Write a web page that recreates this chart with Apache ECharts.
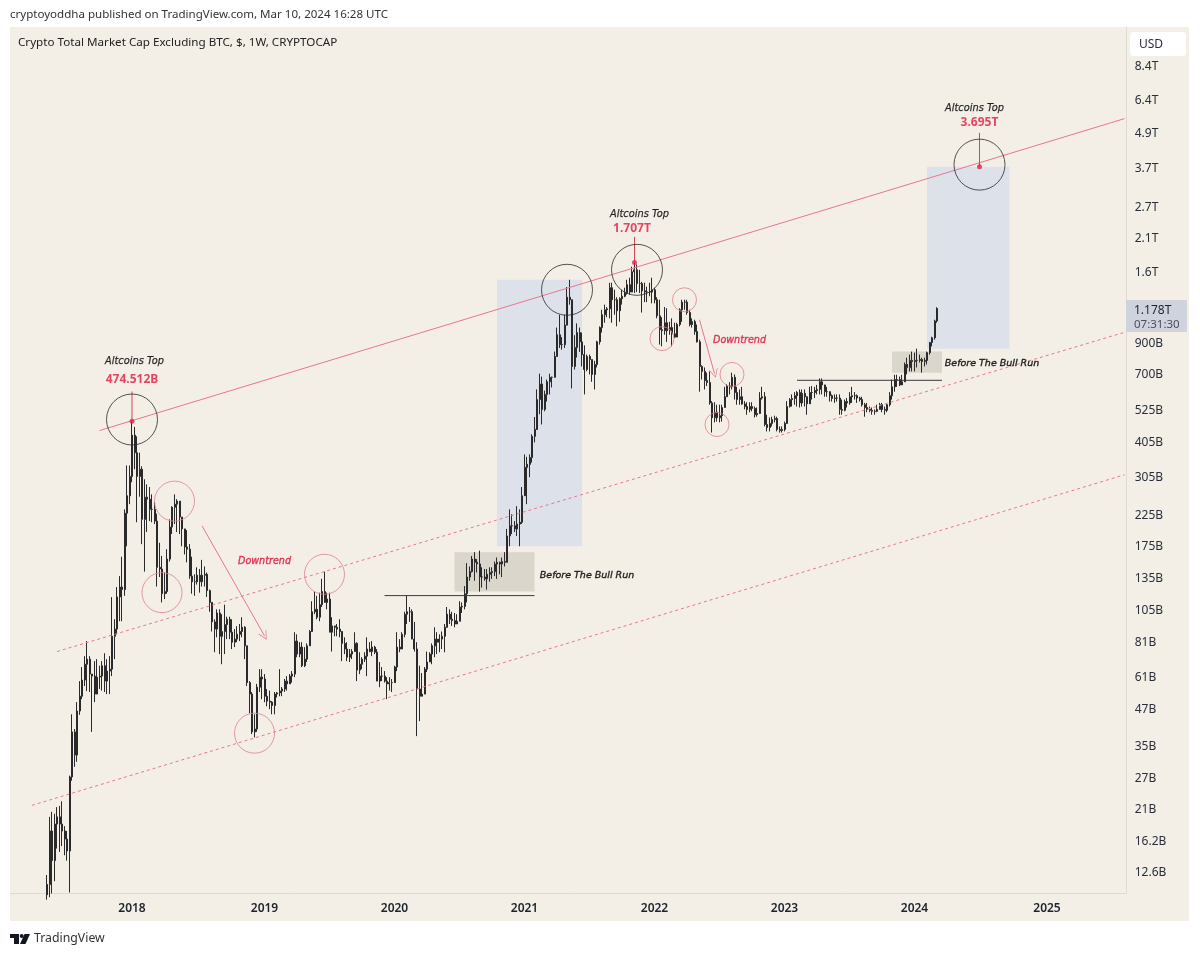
<!DOCTYPE html>
<html>
<head>
<meta charset="utf-8">
<title>Crypto Total Market Cap Excluding BTC</title>
<script src="https://cdn.jsdelivr.net/npm/echarts@6/dist/echarts.min.js"></script>
<style>
html,body{margin:0;padding:0;background:#fff}
#chart{width:1200px;height:957px}
</style>
</head>
<body>
<div id="chart"></div>
<script>
// Weekly candles in billions of USD. Each candle opens at the previous close.
const firstCandleWeek = 14;
const firstOpen = 10.4;
const closes = [
11.3,17.4,13.7,18.4,19.5,18.4,17.4,16.3,14.8,26.9,38.7,32.1,45.8,51.6,58.8,66.8,69.6,61.7,60.7,52.5,60.2,60.7,66,58.3,63.2,64.2,
83.7,88.7,115,124.5,122,226,260,304,424,368,304,322,215,257,253,233,233,212,146,144,118,120,156,202,237,243,249,219,199,172,169,
136,130,130,137,130,137,138,121,110,94,88.7,101,83.7,87,92,96,86.5,79.8,81.8,85,87,90,77.5,57.6,52.5,38.7,39.6,55.5,60.2,59.3,51.6,
49.6,49.2,47.9,52.5,53,53.8,54.7,58.3,57,60.7,61.7,80.5,72.5,76.7,66,69.6,77.5,87,102,104,97.6,108,120,110,113,86.5,91,90,88.7,87,79,
75.5,70.7,72.5,74,79,63.7,66.8,69.6,71.3,75.5,74,76.7,73.6,58.3,60.7,60.7,58.3,57,57.6,57.6,65.3,76.7,75.5,85,100,102,102,81.8,75.5,54.7,
51.6,52.5,64.2,68,72.5,77.5,81.8,79.8,81.8,83.7,90,100,96,95,92.4,94.5,106,106.5,118,135,141,156,152,150,135,135,133,138,140,141,150,
152,150,153,152,188,204,204,199,207,210,260,327,335,354,420,444,565,640,522,589,652,676,676,800,953,880,880,1030,1290,1264,738,860,970,
900,812,720,800,780,692,750,900,1010,1120,1166,1175,1393,1264,1264,1157,1275,1300,1335,1427,1345,1583,1609,1440,1440,1358,1345,1345,
1345,1370,1264,1110,993,985,1050,985,1010,960,935,1035,1166,1240,1240,1140,1035,1060,978,900,738,709,659,648,550,488,510,488,496,530,
578,630,626,676,598,565,578,545,534,522,534,526,500,505,572,578,462,451,466,481,485,444,440,444,466,534,565,570,583,598,550,594,578,546,
598,598,608,613,652,636,602,602,583,570,572,572,522,518,556,550,578,583,583,572,565,542,530,522,518,514,514,522,542,522,518,542,583,626,
664,664,636,652,750,732,775,768,775,775,780,768,775,825,895,930,1065,1178
];
const highs = [
12.2,19.5,20.3,20,21.1,21.3,22.1,18.1,17.4,27.2,44.6,39.6,49.2,58.3,65.3,71.3,80.5,71.3,61.7,68.5,69.6,66,68.5,73,69.6,71.3,
114.8,96,124.5,136,159,233,332,332,474.512,453,420,368,330,297,285,279,263,247,225,178,160,140,169,215,239,263,253,237,219,197,197,
176,159,138,146,144,155,147,140,122,110,96,104,104,100,108,98,98,96,88.7,90.8,92.4,97.6,90.8,77.5,58.3,53.4,44.6,57,64.2,64.2,61.7,
54.7,54,49.6,53.4,53.4,64.2,55.6,59.3,60.7,61.7,63.2,86.5,85,79.8,79.8,76.7,79,88,111,120,116,119,133,141,119,119,97.6,91,92.4,96,87,
83,79.8,75.5,75.5,86.5,79.8,73.6,70.7,73.6,83,79.8,80.5,77.5,75.5,68,65.3,63.2,60.2,60.2,59.3,66,86.5,81.8,86.5,102,116,106,104,94,79.8,
66,62.2,65.3,74,73.6,79,90,86.5,85,87,92.4,106,104,102,101,100,111,110,125.5,151,147,160,165,156,167,146,144,144,146,146,153,
158,153,158,165,199,233,224,212,239,233,279,363,356,363,427,491,613,696,680,607,664,696,680,832,1010,1120,935,1120,1400,1485,1264,950,1045,
1010,970,875,812,812,780,772,908,1020,1166,1215,1192,1450,1450,1370,1290,1290,1370,1393,1485,1510,1650,1707,1680,1609,1460,1450,1405,
1450,1510,1393,1290,1264,1098,1192,1180,1058,1088,1050,1050,1180,1264,1264,1264,1166,1088,1076,1035,916,745,732,702,709,558,553,542,542,542,
626,640,650,702,692,626,613,626,558,553,553,553,534,530,600,626,600,500,489,492,496,492,455,455,473,558,572,589,600,605,613,613,613,572,
626,630,626,636,670,670,630,626,600,589,589,589,589,565,565,572,600,626,600,589,578,578,550,550,534,530,522,542,550,550,534,546,600,664,
690,690,680,690,762,792,812,832,825,852,812,792,792,832,900,938,1076,1190
];
const lows = [
10,10.2,10.5,11.6,15.1,14.7,15.4,14.3,13.7,10.6,26.1,29.2,30.4,44.4,50.4,56,53.8,53.4,38.7,49.2,53.4,54.7,54,53.4,52.5,52.5,
60.7,69.6,85,94.5,94.5,116,173,243,290,322,210,258,176,141,194,212,210,207,125,135,110,113,118,153,191,207,194,191,173,162,152,
133,118,116,127,119,125,125,115,102,87,73.6,83,72.5,66.8,72.5,81.8,81.8,75.5,76.7,79.8,80.5,83,69.6,56,45,38,37,38.7,53.4,50.4,49.2,
47.6,46.5,44.6,44.6,51.1,51.6,51.6,53.4,54,57,57.6,60.2,70.7,70.7,65.3,65.3,68,77.5,88.7,100,96,94.5,106,110,104,86.5,74,83.7,83.7,83,68.5,
72.5,68.5,68,69.6,74,58.3,61.7,64.2,68,60.7,73.6,71.3,72.5,58.3,55.5,58.3,57.6,50.4,54,53.4,57.6,63.2,73.6,76.7,83,92.4,94,81.8,74,37.4,
42.2,51.6,53.4,62.7,68,66.8,70.7,72.5,73.6,75.5,73.6,92.4,92.4,91,90,92.4,94.5,101,104,110,131,140,131,140,120,124,131,122,130,133,136,
133,138,135,147,152,173,191,194,188,173,207,274,243,302,340,400,481,502,462,514,556,589,623,676,800,857,845,857,1076,1215,618,720,793,
830,738,589,710,692,652,613,732,880,970,1050,1098,1088,1050,1120,1020,1058,1215,1290,1317,1317,1410,1335,1345,1335,1140,1240,1240,
1300,1228,1228,1088,880,868,953,900,953,868,928,935,1020,1058,1166,1120,1020,1010,953,895,602,664,613,630,542,433,470,473,470,473,
530,578,589,613,565,542,542,542,522,500,510,514,489,492,514,565,455,437,437,455,470,437,433,433,437,470,530,534,542,534,530,534,534,500,
550,565,572,589,589,589,578,578,556,556,550,556,500,500,514,530,542,550,565,550,556,534,492,510,510,500,500,510,522,510,500,510,534,565,
602,626,630,648,676,692,709,709,709,732,762,702,738,750,812,868,916,1050
];

// Weekly time scale and axis labelling
const weekCount = 446;
const axisStart = Date.UTC(2017, 0, 30);
const weeks = Array.from({length: weekCount}, (_, i) => new Date(axisStart + i * 604800000).toISOString().slice(0, 10));
const yearLabelWeeks = [48, 101, 153, 205, 257, 309, 361, 414];
const yearLabels = ['2018', '2019', '2020', '2021', '2022', '2023', '2024', '2025'];
const priceTicks = [8400,6400,4900,3700,2700,2100,1600,900,700,525,405,305,225,175,135,105,81,61,47,35,27,21,16.2,12.6];
const priceTickLabels = ['8.4T','6.4T','4.9T','3.7T','2.7T','2.1T','1.6T','900B','700B','525B','405B','305B','225B','175B','135B','105B','81B','61B','47B','35B','27B','21B','16.2B','12.6B'];

// Drawing tools on the chart, as [week index, value in billions]
const channelTop = [[35, 440], [445, 5450]];
const channelMiddle = [[18, 74], [445, 972]];
const channelBottom = [[8, 21.4], [445, 308]];
const resistanceLines = [[[149, 116.2], [209, 116.2]], [[314, 660], [372, 660]]];
const projectionBoxes = [[[194, 1485], [228, 173]], [[366, 3695], [399, 852]]];
const rangeBoxes = [[[177, 165], [209, 120]], [[352, 832], [372, 702]]];
const downArrows = [[[76, 204], [101, 84]], [[275, 1076], [281, 697]]];
const topPins = [[[48, 603], [48, 474.512]], [[249, 2100], [249, 1707]], [[387, 4860], [387, 3695]]];
const topDots = [[48, 474.512], [249, 1707], [387, 3695]];
const blackRings = [[48, 481], [222, 1370], [250, 1609], [387, 3760]];
const wideRedRings = [[65, 249], [60, 119], [97, 38.3], [125, 138]];
const smallRedRings = [[260, 924], [269, 1264], [282, 462], [288, 692]];
const topCaptions = [[49, 780], [251, 2540], [385, 5987]];
const topValues = [[48, 670, '474.512B'], [248, 2275, '1.707T'], [387, 5348, '3.695T']];
const downtrendNotes = [[101, 155], [291, 924]];
const bullRunNotes = [[230, 138], [392, 765]];

const candles = closes.map((close, i) => {
  const open = i === 0 ? firstOpen : closes[i - 1];
  return [firstCandleWeek + i, open, close, lows[i], highs[i]];
});

const sansFont = '"Noto Sans", sans-serif';
const annotationFont = '"DejaVu Sans", sans-serif';
const red = '#e8788a';
const redText = '#e2193f';
const panel = '#f3efe7';

function twoPointLine(points, color, dashed, z) {
  return {
    type: 'line', data: points, symbol: 'none', silent: true, z: z,
    lineStyle: {color: color, width: 1, type: dashed ? [3, 3] : 'solid'}
  };
}
function rings(points, size, color) {
  return {
    type: 'scatter', data: points, symbol: 'circle', symbolSize: size, silent: true, z: 6,
    itemStyle: {color: 'transparent', borderColor: color, borderWidth: 1}
  };
}
function captions(points, text, style) {
  return {
    type: 'scatter', data: points, symbolSize: 1, silent: true, z: 8,
    itemStyle: {color: 'transparent'},
    label: Object.assign({show: true, position: 'inside', offset: [0, 1.5], formatter: p => p.value[2] || text, fontFamily: annotationFont}, style)
  };
}
function boxes(list, color, z) {
  return {
    type: 'line', data: [], silent: true, z: z,
    markArea: {silent: true, z: z, itemStyle: {color: color}, data: list.map(b => [{coord: b[0]}, {coord: b[1]}])}
  };
}

const chart = echarts.init(document.getElementById('chart'), null, {renderer: 'canvas'});
chart.setOption({
  animation: false,
  backgroundColor: '#ffffff',
  grid: {left: 10.75, top: 27, width: 1115, height: 866, containLabel: false},
  xAxis: {
    type: 'category', data: weeks, boundaryGap: true,
    axisLine: {show: true, lineStyle: {color: '#dfdbd2'}},
    axisTick: {show: false}, splitLine: {show: false},
    axisLabel: {
      show: true, margin: 10, color: '#1e222d', fontSize: 12, fontWeight: 600, fontFamily: sansFont,
      customValues: yearLabelWeeks,
      formatter: (v, i) => yearLabels[yearLabelWeeks.indexOf(weeks.indexOf(v))] || ''
    }
  },
  yAxis: {
    type: 'log', position: 'right', min: 10.55, max: 11412, logBase: 10,
    axisLine: {show: true, onZero: false, lineStyle: {color: '#dfdbd2'}},
    axisTick: {show: false}, splitLine: {show: false}, minorTick: {show: false},
    axisLabel: {
      show: true, inside: false, margin: 9, align: 'left', color: '#2a2e39', fontSize: 12, fontFamily: sansFont,
      rich: {tick: {color: '#2a2e39', fontSize: 12, fontFamily: sansFont, padding: [4, 0, 0, 0]}},
      customValues: priceTicks,
      formatter: v => {
        let best = 0;
        priceTicks.forEach((t, i) => { if (Math.abs(Math.log(t / v)) < Math.abs(Math.log(priceTicks[best] / v))) best = i; });
        return '{tick|' + priceTickLabels[best] + '}';
      }
    }
  },
  series: [
    boxes(projectionBoxes, '#dde1ea', 1),
    boxes(rangeBoxes, '#dbd6cc', 1),
    {
      type: 'candlestick', data: candles, encode: {x: 0, y: [1, 2, 3, 4]}, barWidth: 1.5, silent: true, z: 3, clip: true,
      itemStyle: {color: '#000', color0: '#000', borderColor: '#2a2a2a', borderColor0: '#2a2a2a', borderWidth: 1}
    },
    twoPointLine(channelTop, red, false, 4),
    twoPointLine(channelMiddle, red, true, 4),
    twoPointLine(channelBottom, red, true, 4),
    ...resistanceLines.map(l => twoPointLine(l, '#3a3a3a', false, 5)),
    ...topPins.map(l => twoPointLine(l, '#d8435a', false, 5)),
    {
      type: 'line', data: [], silent: true, z: 5,
      markLine: {
        silent: true, z: 5, animation: false, symbol: ['none', 'path://M-1 10 L5 0 L11 10 L10 10 L5 2 L0 10 Z'], symbolSize: 9,
        lineStyle: {color: red, width: 1, type: 'solid'}, label: {show: false},
        data: downArrows.map(a => [{coord: a[0]}, {coord: a[1]}])
      }
    },
    {type: 'scatter', data: topDots, symbolSize: 5, silent: true, z: 7, itemStyle: {color: '#e0234a'}},
    rings(blackRings, 51, '#2b2b2b'),
    rings(wideRedRings, 40, '#e0808e'),
    rings(smallRedRings, 24, '#e0808e'),
    captions(topCaptions, 'Altcoins Top', {color: '#000', fontSize: 9.8, fontStyle: 'italic', textBorderColor: '#000', textBorderWidth: 0.25}),
    captions(topValues, '', {color: redText, fontSize: 12, fontWeight: 'bold', fontFamily: sansFont}),
    captions(downtrendNotes, 'Downtrend', {color: redText, fontSize: 9.6, fontStyle: 'italic', textBorderColor: redText, textBorderWidth: 0.4}),
    captions(bullRunNotes, 'Before The Bull Run', {color: '#000', fontSize: 9.5, fontStyle: 'italic', textBorderColor: '#000', textBorderWidth: 0.4})
  ],
  graphic: [
    {type: 'rect', z: -10, silent: true, shape: {x: 10, y: 27, width: 1179, height: 894}, style: {fill: panel}},
    {type: 'text', z: 20, silent: true, x: 10, y: 9, style: {text: 'cryptoyoddha published on TradingView.com, Mar 10, 2024 16:28 UTC', fill: '#333', font: '11.55px ' + sansFont}},
    {type: 'text', z: 20, silent: true, x: 18, y: 37, style: {text: 'Crypto Total Market Cap Excluding BTC, $, 1W, CRYPTOCAP', fill: '#222', font: '11.65px ' + sansFont}},
    {type: 'rect', z: 20, silent: true, shape: {x: 1130, y: 32, width: 56, height: 24, r: 3}, style: {fill: '#fff'}},
    {type: 'text', z: 21, silent: true, x: 1139, y: 39, style: {text: 'USD', fill: '#2a2e39', font: '12px ' + sansFont}},
    {type: 'rect', z: 20, silent: true, shape: {x: 1126, y: 300, width: 61, height: 32}, style: {fill: '#cfd3de'}},
    {type: 'text', z: 21, silent: true, x: 1134, y: 305, style: {text: closes[closes.length - 1] / 1000 + 'T', fill: '#1e222d', font: '12px ' + sansFont}},
    {type: 'text', z: 21, silent: true, x: 1134, y: 319, style: {text: '07:31:30', fill: '#4a4e59', font: '11.5px ' + sansFont}},
    {type: 'polygon', z: 20, silent: true, shape: {points: [[10, 934], [19, 934], [19, 944], [14, 944], [14, 938], [10, 938]]}, style: {fill: '#131722'}},
    {type: 'circle', z: 20, silent: true, shape: {cx: 21.7, cy: 936, r: 2}, style: {fill: '#131722'}},
    {type: 'polygon', z: 20, silent: true, shape: {points: [[24.5, 934], [30, 934], [25.5, 944], [20, 944]]}, style: {fill: '#131722'}},
    {type: 'text', z: 20, silent: true, x: 34, y: 932, style: {text: 'TradingView', fill: '#333', font: '12.3px ' + sansFont}}
  ]
});
</script>
</body>
</html>
